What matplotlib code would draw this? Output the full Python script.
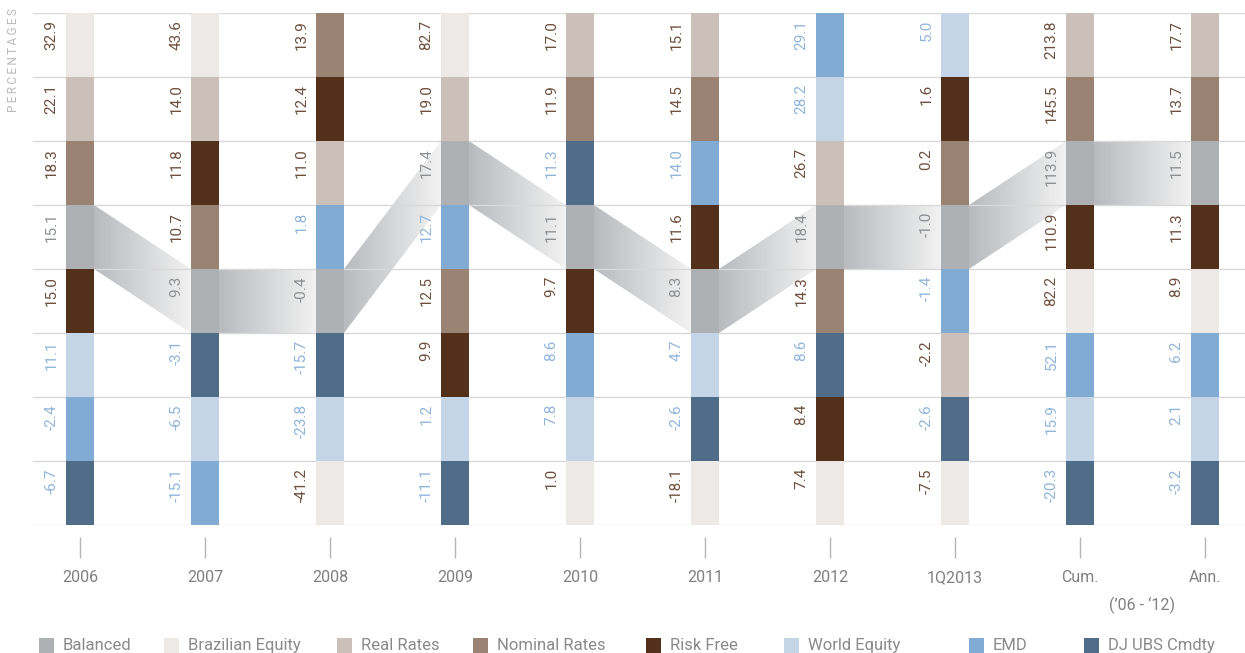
import numpy as np
import matplotlib
matplotlib.use('Agg')
import matplotlib.pyplot as plt
from matplotlib.patches import Polygon, Rectangle
from matplotlib.colors import LinearSegmentedColormap

plt.rcParams['font.family'] = ['Roboto', 'DejaVu Sans']

# data: annual returns (%) per asset class
periods = ['2006', '2007', '2008', '2009', '2010', '2011', '2012', '1Q2013', 'Cum.', 'Ann.']
categories = ['Balanced', 'Brazilian Equity', 'Real Rates', 'Nominal Rates',
              'Risk Free', 'World Equity', 'EMD', 'DJ UBS Cmdty']

balanced = [15.1, 9.3, -0.4, 17.4, 11.1, 8.3, 18.4, -1.0, 113.9, 11.5]
brazilian_equity = [32.9, 43.6, -41.2, 82.7, 1.0, -18.1, 7.4, -7.5, 82.2, 8.9]
real_rates = [22.1, 14.0, 11.0, 19.0, 17.0, 15.1, 26.7, -2.2, 213.8, 17.7]
nominal_rates = [18.3, 10.7, 13.9, 12.5, 11.9, 14.5, 14.3, 0.2, 145.5, 13.7]
risk_free = [15.0, 11.8, 12.4, 9.9, 9.7, 11.6, 8.4, 1.6, 110.9, 11.3]
world_equity = [11.1, -6.5, -23.8, 1.2, 7.8, 4.7, 28.2, 5.0, 15.9, 2.1]
emd = [-2.4, -15.1, 1.8, 12.7, 8.6, 14.0, 29.1, -1.4, 52.1, 6.2]
dj_ubs = [-6.7, -3.1, -15.7, -11.1, 11.3, -2.6, 8.6, -2.6, -20.3, -3.2]

series = [balanced, brazilian_equity, real_rates, nominal_rates,
          risk_free, world_equity, emd, dj_ubs]

colors = ['#aeb1b4', '#ede9e6', '#cbbfb9', '#9a8372',
          '#53301a', '#c4d5e7', '#82abd3', '#4f6d89']
BROWN_TXT = '#6e4f3d'
BLUE_TXT = '#8fb5db'
GRAY_TXT = '#8d9093'
text_colors = [GRAY_TXT, BROWN_TXT, BROWN_TXT, BROWN_TXT,
               BROWN_TXT, BLUE_TXT, BLUE_TXT, BLUE_TXT]

W, H = 1245, 653
fig = plt.figure(figsize=(W / 100, H / 100), dpi=100)
ax = fig.add_axes([33 / W, (H - 525) / H, (W - 33) / W, 512 / H])

n_rows = len(categories)
bar_w = 28 / 125
x = np.arange(len(periods))

# rank of every category within each period (0 = best)
vals = np.array(series)
ranks = np.zeros_like(vals, dtype=int)
for j in range(len(periods)):
    order = np.argsort(-vals[:, j], kind='stable')
    ranks[order, j] = np.arange(n_rows)

# grid lines
for r in range(n_rows + 1):
    ax.axhline(r, color='#d9d9d9', lw=1, zorder=1.5)

# bars
for k, cat in enumerate(categories):
    ax.bar(x, 1, bottom=ranks[k], width=bar_w, color=colors[k],
           align='center', zorder=2, linewidth=0)
    for j in range(len(periods)):
        ax.text(x[j] - bar_w - 0.005, ranks[k, j] + 0.11, f'{vals[k, j]:.1f}',
                rotation=90, ha='center', va='top', fontsize=11,
                color=text_colors[k], zorder=3)

# gradient bands linking the Balanced portfolio
grad_cmap = LinearSegmentedColormap.from_list('band', ['#b8babd', '#f2f2f2'])
grad = np.linspace(0, 1, 256).reshape(1, -1)
bal = ranks[0]
for j in range(len(periods) - 1):
    x0 = x[j] + bar_w / 2
    x1 = x[j + 1] - bar_w / 2
    verts = [(x0, bal[j]), (x1, bal[j + 1]), (x1, bal[j + 1] + 1), (x0, bal[j] + 1)]
    poly = Polygon(verts, closed=True, facecolor='none', edgecolor='none')
    ax.add_patch(poly)
    im = ax.imshow(grad, extent=(x0, x1, n_rows, 0), cmap=grad_cmap,
                   aspect='auto', zorder=1, interpolation='bilinear')
    im.set_clip_path(poly)

ax.set_xlim((33 - 80) / 125, (W - 80) / 125)
ax.set_ylim(n_rows, 0)

for s in ax.spines.values():
    s.set_visible(False)
ax.spines['bottom'].set_position(('outward', 8.6))
ax.set_yticks([])
ax.set_xticks(x)
ax.set_xticklabels(periods)
ax.tick_params(axis='x', direction='out', length=15, width=1, color='#b5b5b5',
               pad=9, labelsize=11.5, labelcolor='#808080')

ax.text(8.5, -80 / 512, '(\u201906 - \u201812)', transform=ax.get_xaxis_transform(),
        ha='center', va='center', fontsize=11.5, color='#808080')

fig.text(14 / W, 1 - 60 / H, '\u2009'.join('PERCENTAGES'), rotation=90,
         ha='center', va='center', fontsize=8.5, color='#b9b9b9')

# legend
legend_x = [39, 164, 337, 473, 646, 784, 969, 1084]
for k, cat in enumerate(categories):
    fig.patches.append(Rectangle((legend_x[k] / W, 0), 15 / W, 15 / H,
                                 transform=fig.transFigure, facecolor=colors[k],
                                 edgecolor='none'))
    fig.text((legend_x[k] + 24) / W, 3 / H, cat, ha='left', va='baseline',
             fontsize=12, color='#8a8a8a')

fig.savefig('out.png', dpi=100)
